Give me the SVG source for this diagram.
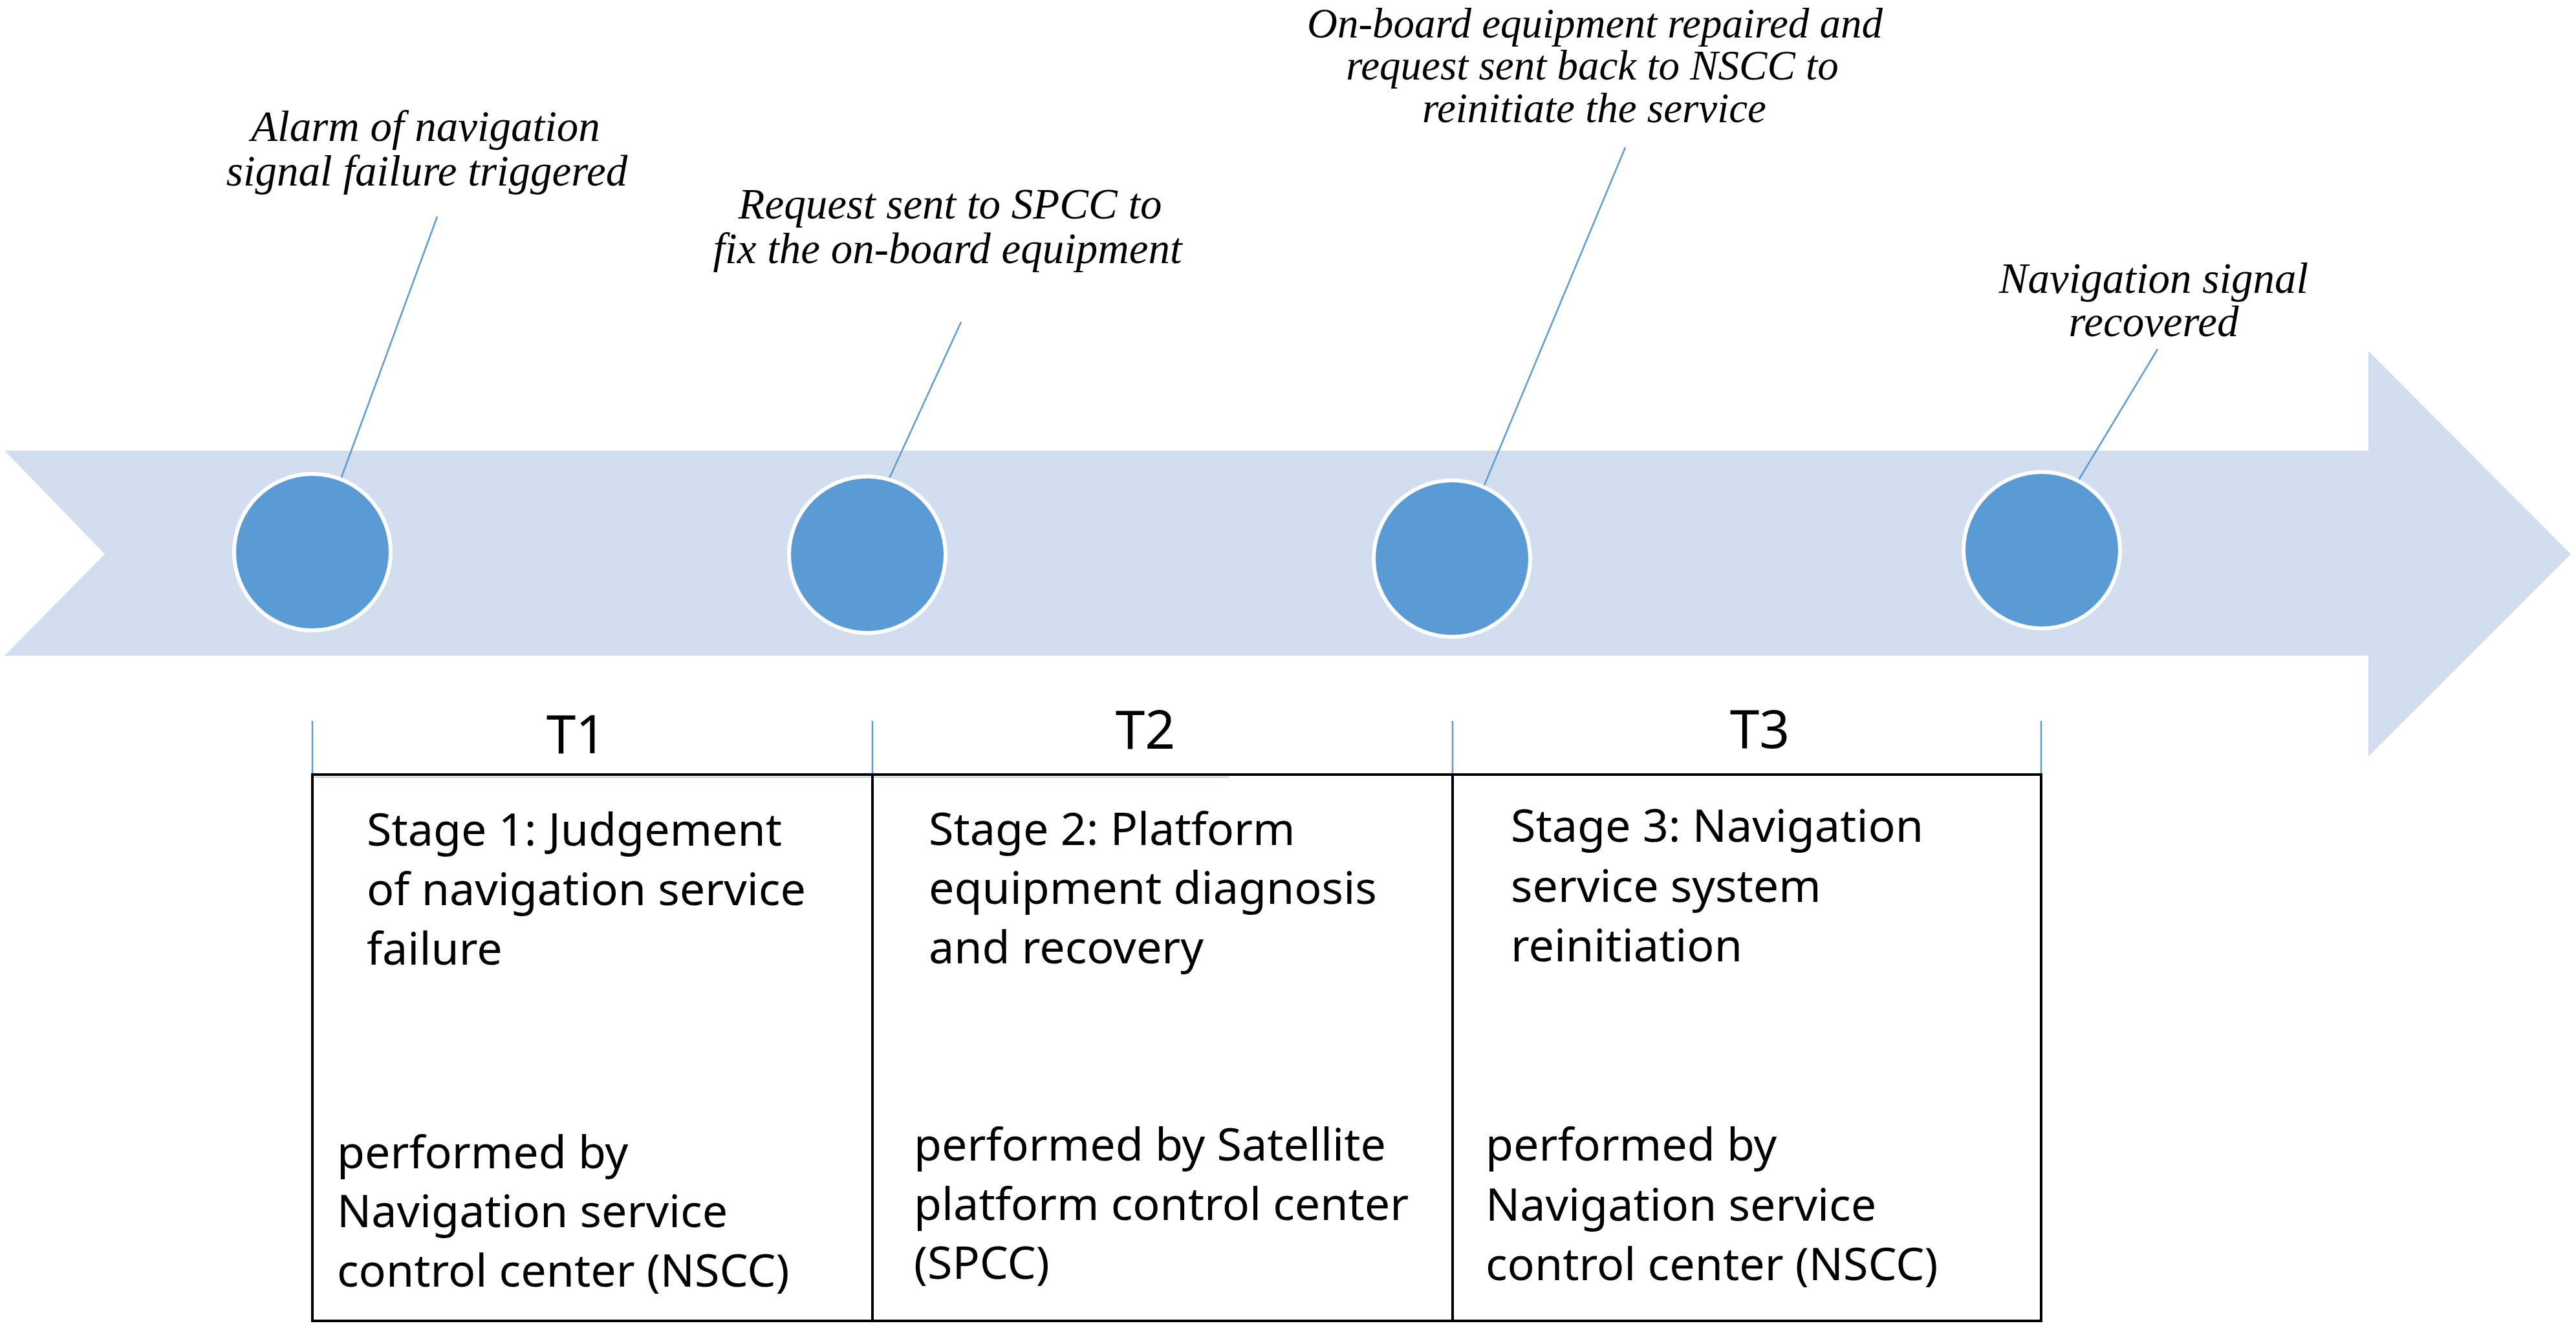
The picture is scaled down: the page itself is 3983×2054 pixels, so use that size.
<svg xmlns="http://www.w3.org/2000/svg" width="3983" height="2054" viewBox="0 0 3983 2054">
<style>
.ev{font-family:"Liberation Serif","DejaVu Serif",serif;font-style:italic;font-size:67px;fill:#000;text-anchor:middle}
.ev3{font-size:65px}
.bx{font-family:"Noto Sans","Open Sans",sans-serif;font-size:70px;fill:#000}
.tl{font-family:"Noto Sans","Open Sans",sans-serif;font-size:82px;fill:#000;text-anchor:middle}
.dot{fill:#5B9BD5;stroke:#fff;stroke-width:6}
.lead{stroke:#5B9BD5;stroke-width:2.5;fill:none}
.tick{stroke:#5B9BD5;stroke-width:2.5}
.cell{fill:none;stroke:#000;stroke-width:4}
</style>
<rect width="3983" height="2054" fill="#fff"/>
<g id="timeline">
<polygon points="7,697 3662,697 3662,543 3975,857 3662,1170 3662,1014 7,1014 162,857" fill="#D2DEEF"/>
</g>
<g id="connectors">
<line class="lead" x1="676" y1="335" x2="527" y2="741"/>
<line class="lead" x1="1486" y1="498" x2="1374" y2="742"/>
<line class="lead" x1="2513" y1="228" x2="2294" y2="753"/>
<line class="lead" x1="3336" y1="540" x2="3213" y2="744"/>
<line class="tick" x1="483" y1="1115" x2="483" y2="1198"/>
<line class="tick" x1="1349" y1="1115" x2="1349" y2="1198"/>
<line class="tick" x1="2246" y1="1115" x2="2246" y2="1198"/>
<line class="tick" x1="3156" y1="1115" x2="3156" y2="1198"/>
<line x1="483" y1="1202" x2="1900" y2="1202" stroke="#BCD3EC" stroke-width="2"/>
</g>
<g id="event1">
<circle class="dot" cx="483" cy="854" r="121"/>
<text class="ev" x="658" y="218">Alarm of navigation</text>
<text class="ev" x="660" y="287">signal failure triggered</text>
</g>
<g id="event2">
<circle class="dot" cx="1341" cy="858" r="121"/>
<text class="ev" x="1469" y="338">Request sent to SPCC to</text>
<text class="ev" x="1465" y="407">fix the on-board equipment</text>
</g>
<g id="event3">
<circle class="dot" cx="2245" cy="864" r="121"/>
<text class="ev ev3" x="2466" y="58">On-board equipment repaired and</text>
<text class="ev ev3" x="2462" y="123">request sent back to NSCC to</text>
<text class="ev ev3" x="2465" y="189">reinitiate the service</text>
</g>
<g id="event4">
<circle class="dot" cx="3157" cy="851" r="121"/>
<text class="ev" x="3330" y="453">Navigation signal</text>
<text class="ev" x="3330" y="520">recovered</text>
</g>
<g id="stage1">
<rect class="cell" x="483" y="1198" width="866" height="845"/>
<text class="tl" x="891" y="1165">T1</text>
<text class="bx" x="567" y="1308">Stage 1: Judgement</text>
<text class="bx" x="567" y="1400">of navigation service</text>
<text class="bx" x="567" y="1492">failure</text>
<text class="bx" x="521" y="1807">performed by</text>
<text class="bx" x="521" y="1898">Navigation service</text>
<text class="bx" x="521" y="1990">control center (NSCC)</text>
</g>
<g id="stage2">
<rect class="cell" x="1349" y="1198" width="897" height="845"/>
<text class="tl" x="1771" y="1158">T2</text>
<text class="bx" x="1436" y="1307">Stage 2: Platform</text>
<text class="bx" x="1436" y="1398">equipment diagnosis</text>
<text class="bx" x="1436" y="1490">and recovery</text>
<text class="bx" x="1413" y="1795">performed by Satellite</text>
<text class="bx" x="1413" y="1887">platform control center</text>
<text class="bx" x="1413" y="1978">(SPCC)</text>
</g>
<g id="stage3">
<rect class="cell" x="2246" y="1198" width="910" height="845"/>
<text class="tl" x="2721" y="1157">T3</text>
<text class="bx" x="2336" y="1302">Stage 3: Navigation</text>
<text class="bx" x="2336" y="1395">service system</text>
<text class="bx" x="2336" y="1487">reinitiation</text>
<text class="bx" x="2297" y="1795">performed by</text>
<text class="bx" x="2297" y="1888">Navigation service</text>
<text class="bx" x="2297" y="1980">control center (NSCC)</text>
</g>
</svg>
